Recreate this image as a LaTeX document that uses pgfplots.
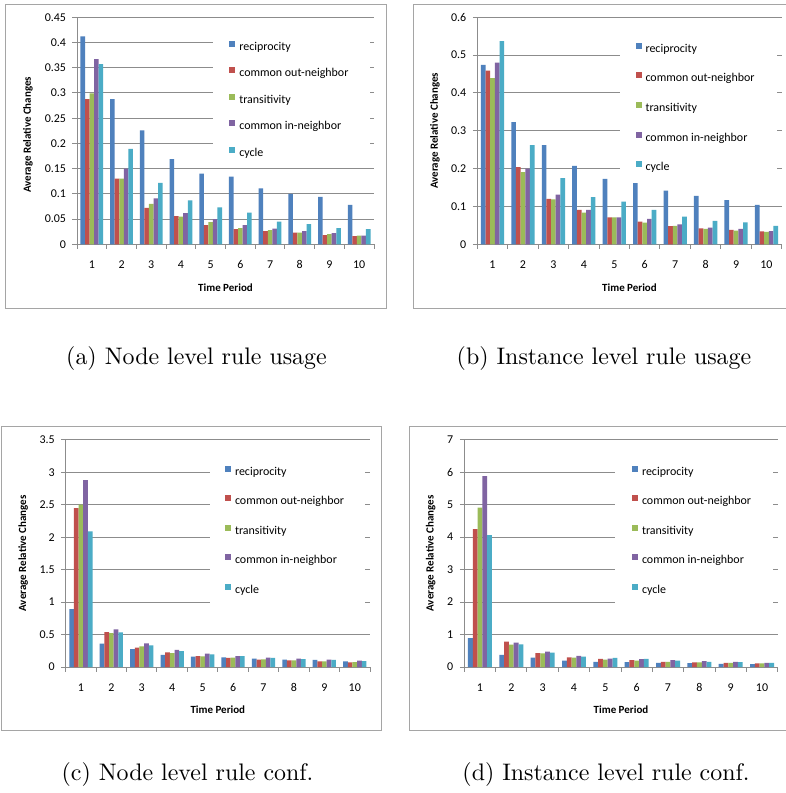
\documentclass[border=0pt]{standalone}
\usepackage{fontspec}
\usepackage{pgfplots}
\usepackage{pgfplotstable}
\pgfplotsset{compat=1.18}
\newfontfamily\calibri{Carlito}
\definecolor{cA}{HTML}{4F81BD}
\definecolor{cB}{HTML}{C0504D}
\definecolor{cC}{HTML}{9BBB59}
\definecolor{cD}{HTML}{8064A2}
\definecolor{cE}{HTML}{4BACC6}
\definecolor{gridc}{RGB}{140,140,140}
\definecolor{framec}{RGB}{165,165,165}
\newcommand{\tickfont}{\calibri\fontsize{12}{14}\selectfont}
\newcommand{\titlefont}{\calibri\bfseries\fontsize{11}{13}\selectfont}

% (a) Node level rule usage
\pgfplotstableread{
x a b c d e
1 0.412 0.288 0.299 0.367 0.357
2 0.288 0.130 0.130 0.150 0.189
3 0.226 0.072 0.080 0.091 0.122
4 0.169 0.056 0.055 0.062 0.087
5 0.140 0.038 0.044 0.050 0.073
6 0.134 0.030 0.032 0.038 0.063
7 0.111 0.026 0.028 0.031 0.045
8 0.100 0.023 0.023 0.026 0.040
9 0.094 0.018 0.020 0.022 0.032
10 0.078 0.016 0.017 0.017 0.030
}\tA
% (b) Instance level rule usage
\pgfplotstableread{
x a b c d e
1 0.474 0.459 0.439 0.480 0.537
2 0.323 0.204 0.191 0.200 0.262
3 0.262 0.120 0.119 0.131 0.175
4 0.207 0.091 0.084 0.091 0.125
5 0.173 0.071 0.071 0.071 0.113
6 0.162 0.060 0.057 0.067 0.091
7 0.142 0.048 0.049 0.053 0.073
8 0.128 0.042 0.041 0.044 0.062
9 0.117 0.038 0.036 0.041 0.058
10 0.104 0.034 0.033 0.035 0.049
}\tB
% (c) Node level rule conf.
\pgfplotstableread{
x a b c d e
1 0.893 2.447 2.499 2.878 2.088
2 0.359 0.539 0.523 0.580 0.534
3 0.277 0.298 0.318 0.364 0.334
4 0.185 0.226 0.215 0.262 0.246
5 0.159 0.169 0.164 0.205 0.195
6 0.149 0.139 0.144 0.169 0.169
7 0.128 0.113 0.118 0.144 0.139
8 0.113 0.103 0.103 0.128 0.123
9 0.108 0.087 0.087 0.113 0.108
10 0.087 0.072 0.077 0.097 0.092
}\tC
% (d) Instance level rule conf.
\pgfplotstableread{
x a b c d e
1 0.89 4.25 4.91 5.88 4.06
2 0.37 0.78 0.69 0.75 0.70
3 0.29 0.43 0.42 0.47 0.44
4 0.195 0.30 0.29 0.34 0.32
5 0.16 0.25 0.23 0.26 0.28
6 0.15 0.21 0.20 0.24 0.25
7 0.13 0.16 0.16 0.21 0.20
8 0.12 0.14 0.14 0.18 0.16
9 0.10 0.13 0.13 0.16 0.15
10 0.09 0.11 0.11 0.13 0.13
}\tD

\pgfplotsset{
  legimg/.style={legend image code/.code={\fill[#1] (0bp,0.5bp) rectangle (6bp,6.5bp); \path (10bp,3bp);}},
  panel/.style={
    scale only axis,
    anchor=south west,
    xmin=0.5, xmax=10.5, ymin=0,
    enlargelimits=false,
    axis x line=bottom, axis y line=left,
    axis line style={-, draw=gridc, line width=1bp},
    ymajorgrids, grid style={draw=gridc, line width=1bp},
    xtick={0.5,1.5,2.5,3.5,4.5,5.5,6.5,7.5,8.5,9.5,10.5},
    x tick label as interval,
    xticklabels={1,2,3,4,5,6,7,8,9,10},
    tick style={draw=gridc, line width=1bp},
    major tick length=4.5bp,
    tick align=outside,
    ticklabel style={font=\tickfont},
    xticklabel style={anchor=center, yshift=-16bp},
    yticklabel style={anchor=east, xshift=-3bp, /pgf/number format/fixed, /pgf/number format/assume math mode=true},
    xlabel={Time Period}, ylabel={Average Relative Changes},
    label style={font=\titlefont},
    xlabel style={at={(axis description cs:0.5,-0.1894)}, anchor=center},
    ybar, bar width=0.153,
    legend cell align=left,
    legend entries={reciprocity, common out-neighbor, transitivity, common in-neighbor, cycle},
    legend style={anchor=north west, draw=none, fill=none, inner sep=0pt, outer sep=0pt,
      font=\tickfont, nodes={inner sep=0pt, text height=8bp, text depth=2bp}},
  },
}
\newcommand{\fivebars}[1]{%
  \addplot[fill=cA, draw=none, bar shift=-0.306, legimg=cA] table[x=x,y=a]{#1};
  \addplot[fill=cB, draw=none, bar shift=-0.153, legimg=cB] table[x=x,y=b]{#1};
  \addplot[fill=cC, draw=none, bar shift=0, legimg=cC] table[x=x,y=c]{#1};
  \addplot[fill=cD, draw=none, bar shift=0.153, legimg=cD] table[x=x,y=d]{#1};
  \addplot[fill=cE, draw=none, bar shift=0.306, legimg=cE] table[x=x,y=e]{#1};
}

\begin{document}
\begin{tikzpicture}
\useasboundingbox (0,0) rectangle (786bp,-793bp);
\fill[white] (0,0) rectangle (786bp,-793bp);
% frames
\draw[framec, line width=1bp] (5.3bp,-4bp) rectangle (386bp,-308.3bp);
\draw[framec, line width=1bp] (413bp,-4bp) rectangle (795bp,-308.3bp);
\draw[framec, line width=1bp] (1.7bp,-426.7bp) rectangle (381bp,-730.7bp);
\draw[framec, line width=1bp] (409.3bp,-426.7bp) rectangle (795bp,-730.7bp);

% (a)
\begin{axis}[panel, at={(77bp,-244.3bp)}, width=297bp, height=227bp,
  ymax=0.45, ytick={0,0.05,0.1,0.15,0.2,0.25,0.3,0.35,0.4,0.45},
  ylabel style={at={(axis description cs:-0.165,0.482)}, anchor=center},
  legend style={at={(axis description cs:0.5128,0.8978)}, row sep=15bp}]
\fivebars{\tA}
\fill[white] (rel axis cs:0.458,0.371) rectangle (rel axis cs:0.9865,0.966);
\end{axis}

% (b)
\begin{axis}[panel, at={(477.3bp,-244.3bp)}, width=304.4bp, height=227bp,
  ymax=0.6, ytick={0,0.1,0.2,0.3,0.4,0.5,0.6},
  ylabel style={at={(axis description cs:-0.139,0.5)}, anchor=center},
  legend style={at={(axis description cs:0.5197,0.8877)}, row sep=18.1bp}]
\fivebars{\tB}
\fill[white] (rel axis cs:0.4688,0.292) rectangle (rel axis cs:0.9836,0.966);
\end{axis}

% (c)
\begin{axis}[panel, at={(65.7bp,-667bp)}, width=304.3bp, height=227.3bp,
  ymax=3.5, ytick={0,0.5,1,1.5,2,2.5,3,3.5},
  ylabel style={at={(axis description cs:-0.1393,0.5)}, anchor=center},
  legend style={at={(axis description cs:0.5235,0.8865)}, row sep=18.1bp}]
\fivebars{\tC}
\fill[white] (rel axis cs:0.4742,0.2068) rectangle (rel axis cs:0.9836,0.968);
\end{axis}

% (d)
\begin{axis}[panel, at={(464.3bp,-667bp)}, width=313.4bp, height=227.3bp,
  ymax=7, ytick={0,1,2,3,4,5,6,7},
  ylabel style={at={(axis description cs:-0.1072,0.5)}, anchor=center},
  legend style={at={(axis description cs:0.5351,0.8865)}, row sep=18.1bp}]
\fivebars{\tD}
\fill[white] (rel axis cs:0.4809,0.2068) rectangle (rel axis cs:0.985,0.968);
\end{axis}

% captions
\node[scale=2.4, anchor=base] at (196.5bp,-364.2bp) {\fontsize{10}{12}\selectfont (a) Node level rule usage};
\node[scale=2.4, anchor=base] at (604bp,-364.2bp) {\fontsize{10}{12}\selectfont (b) Instance level rule usage};
\node[scale=2.4, anchor=base] at (187.5bp,-780.8bp) {\fontsize{10}{12}\selectfont (c) Node level rule conf.};
\node[scale=2.4, anchor=base] at (606bp,-780.8bp) {\fontsize{10}{12}\selectfont (d) Instance level rule conf.};
\end{tikzpicture}
\end{document}
